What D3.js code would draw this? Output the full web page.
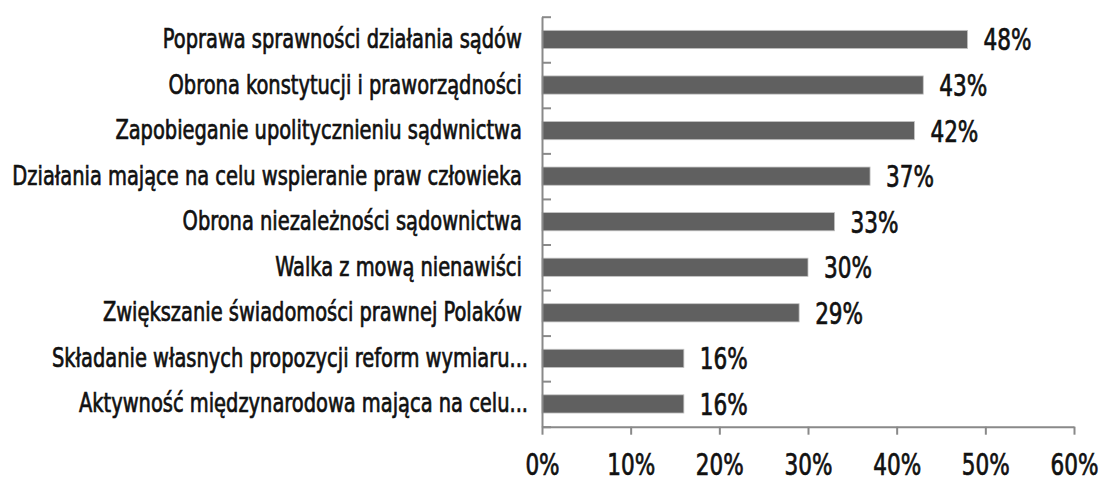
<!DOCTYPE html>
<html>
<head>
<meta charset="utf-8">
<script src="https://cdn.jsdelivr.net/npm/d3@7"></script>
<style>
  html, body { margin: 0; padding: 0; background: #fff; overflow: hidden; }
  svg { display: block; }
  text { font-family: "Liberation Sans Narrow", "DejaVu Sans Condensed", "Roboto", sans-serif;
         fill: #111; stroke: #111; stroke-width: 0.7px; }
</style>
</head>
<body>
<svg width="1100" height="478"></svg>
<script>
// categories, top to bottom (trailing space kept as in source labels)
var categories = [
  "Poprawa sprawności działania sądów ",
  "Obrona konstytucji i praworządności ",
  "Zapobieganie upolitycznieniu sądwnictwa ",
  "Działania mające na celu wspieranie praw człowieka ",
  "Obrona niezależności sądownictwa ",
  "Walka z mową nienawiści ",
  "Zwiększanie świadomości prawnej Polaków ",
  "Składanie własnych propozycji reform wymiaru...",
  "Aktywność międzynarodowa mająca na celu..."
];
var values = [0.48, 0.43, 0.42, 0.37, 0.33, 0.30, 0.29, 0.16, 0.16];
var xTicks = [0, 0.1, 0.2, 0.3, 0.4, 0.5, 0.6];

var svg = d3.select("svg");
var plotLeft = 542, plotRight = 1074, plotTop = 16.7, plotBottom = 426.7;

var x = d3.scaleLinear().domain([0, 0.6]).range([plotLeft, plotRight]);
var y = d3.scaleBand().domain(categories).range([plotTop, plotBottom])
    .paddingInner(0.6).paddingOuter(0.3);
// boundaries between the categories, for the small tick marks
var yEdge = d3.scaleLinear().domain([0, categories.length]).range([plotTop, plotBottom]);

var pct = d3.format(".0%");
var axisColor = "#898989";

// bars
svg.append("g").selectAll("rect")
    .data(values)
    .enter().append("rect")
      .attr("x", x(0))
      .attr("y", function(d, i) { return y(categories[i]); })
      .attr("width", function(d) { return x(d) - x(0); })
      .attr("height", y.bandwidth())
      .attr("fill", "#606060")
      .attr("stroke", "#c4c4c4")
      .attr("stroke-width", 0.8);

// vertical axis with inward ticks
var yAxis = svg.append("g")
    .attr("transform", "translate(" + plotLeft + ",0)")
    .call(d3.axisRight(yEdge).tickValues(d3.range(categories.length + 1))
      .tickSize(9).tickSizeOuter(0).tickFormat(""));

// bottom axis
var xAxis = svg.append("g")
    .attr("transform", "translate(0," + plotBottom + ")")
    .call(d3.axisBottom(x).tickValues(xTicks).tickSize(8).tickSizeOuter(0)
      .tickPadding(19).tickFormat(pct));
xAxis.attr("font-family", null).attr("font-size", null);

[yAxis, xAxis].forEach(function(a) {
  a.selectAll("path, line").attr("stroke", axisColor).attr("stroke-width", 2);
});

// category labels, squeezed horizontally to a condensed look
var catLabels = svg.append("g").selectAll("text")
    .data(categories)
    .enter().append("text")
      .attr("text-anchor", "end")
      .style("white-space", "pre")
      .attr("font-size", 27)
      .text(function(d) { return d; });

var longest = d3.max(catLabels.nodes(), function(n) { return n.getComputedTextLength(); });
var kCat = (528 - 12) / longest;
catLabels.attr("transform", function(d) {
  return "translate(528," + (y(d) + y.bandwidth() / 2 + 8.5) + ") scale(" + kCat + ",1)";
});

// value labels
var valLabels = svg.append("g").selectAll("text")
    .data(values)
    .enter().append("text")
      .attr("font-size", 30)
      .text(function(d) { return pct(d); });

var kNum = 48 / valLabels.node().getComputedTextLength();
valLabels.attr("transform", function(d, i) {
  return "translate(" + (x(d) + 16) + "," + (y(categories[i]) + y.bandwidth() / 2 + 11) + ") scale(" + kNum + ",1)";
});

xAxis.selectAll("text")
    .attr("font-size", 30)
    .attr("fill", "#111")
    .attr("transform", "scale(" + kNum + ",1)");
</script>
</body>
</html>
